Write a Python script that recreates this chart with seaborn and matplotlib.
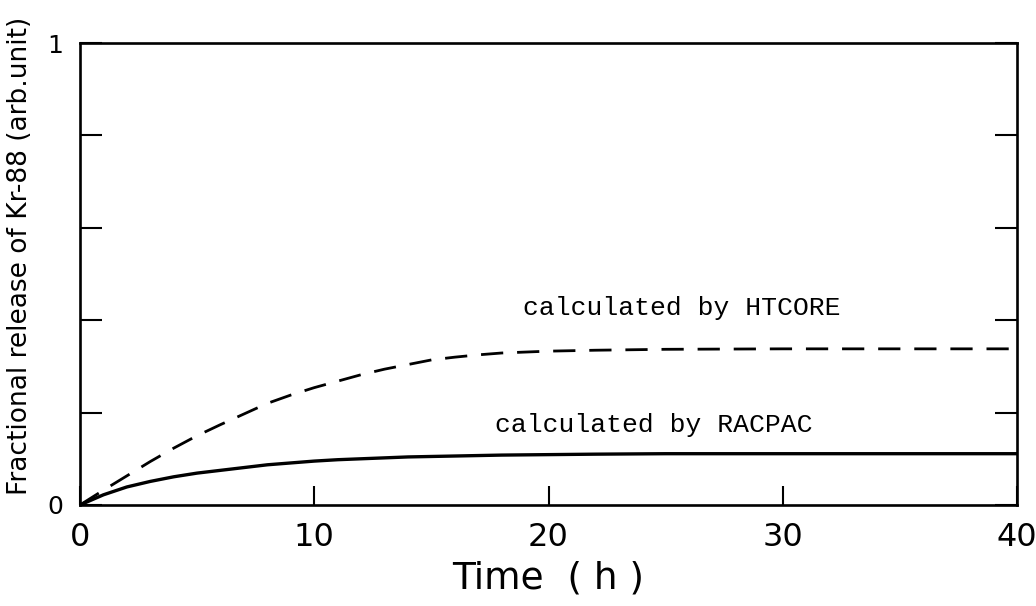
import numpy as np
import pandas as pd
import seaborn as sns
import matplotlib.pyplot as plt

# values
time_h = [0, 1, 2, 3, 4, 5, 6, 7, 8, 9, 10, 11, 12, 13, 14, 15, 16, 17, 18, 20, 22, 25, 30, 35, 40]
htcore = [0, 0.032, 0.063, 0.094, 0.123, 0.150, 0.174, 0.197, 0.220, 0.238, 0.254, 0.268, 0.282,
          0.294, 0.304, 0.314, 0.320, 0.325, 0.329, 0.333, 0.335, 0.337, 0.338, 0.338, 0.338]
racpac = [0, 0.022, 0.039, 0.051, 0.061, 0.069, 0.075, 0.081, 0.087, 0.091, 0.095, 0.098, 0.100,
          0.102, 0.104, 0.105, 0.106, 0.107, 0.108, 0.109, 0.110, 0.111, 0.111, 0.111, 0.111]

x_ticks = [0, 10, 20, 30, 40]
y_ticks = [0, 0.2, 0.4, 0.6, 0.8, 1.0]
y_labels = ["0", "", "", "", "", "1"]

df = pd.DataFrame({"time": time_h, "htcore": htcore, "racpac": racpac})

sns.set_style("ticks")
plt.rcParams["font.family"] = ["DejaVu Sans"]
plt.rcParams["text.color"] = "black"
plt.rcParams["axes.labelcolor"] = "black"
plt.rcParams["xtick.color"] = "black"
plt.rcParams["ytick.color"] = "black"

fig = plt.figure(figsize=(10.36, 6.06), dpi=100)
ax = fig.add_axes([0.0772, 0.1667, 0.9045, 0.7623])

sns.lineplot(data=df, x="time", y="htcore", ax=ax, color="black", lw=2.0)
ax.lines[-1].set_dashes((8, 5))
sns.lineplot(data=df, x="time", y="racpac", ax=ax, color="black", lw=2.4)

ax.set_xlim(0, 40)
ax.set_ylim(0, 1)
ax.set_xticks(x_ticks)
ax.set_xticklabels([str(v) for v in x_ticks])
ax.set_yticks(y_ticks)
ax.set_yticklabels(y_labels)
ax.tick_params(axis="x", direction="in", length=14, width=1.5, labelsize=23, pad=12)
ax.tick_params(axis="y", direction="in", length=16, width=1.5, labelsize=18, pad=12,
               right=True)
for s in ax.spines.values():
    s.set_linewidth(1.9)
    s.set_color("black")
    s.set_visible(True)

ax.set_xlabel("Time  ( h )", fontsize=27, labelpad=6)
ax.set_ylabel("Fractional release of Kr-88 (arb.unit)", fontsize=19, labelpad=0)
ax.yaxis.set_label_coords(-0.05, 0.54)

ax.text(18.9, 0.426, "calculated by HTCORE", family="Liberation Mono", fontsize=19,
        va="center", ha="left")
ax.text(17.7, 0.173, "calculated by RACPAC", family="Liberation Mono", fontsize=19,
        va="center", ha="left")

fig.savefig("out.png", dpi=100)
